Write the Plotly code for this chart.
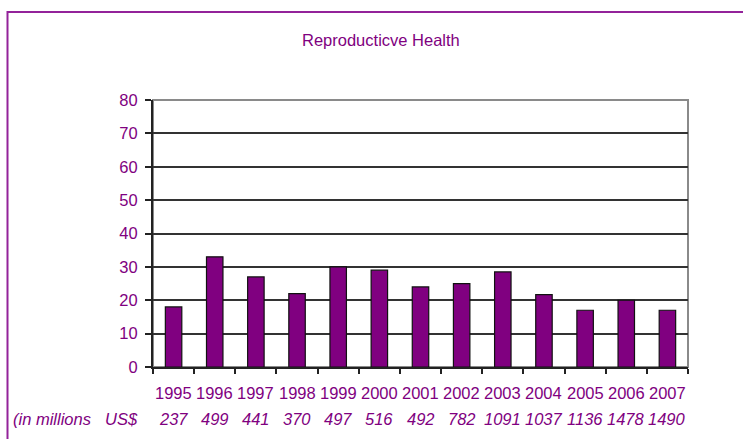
import plotly.graph_objects as go

# Reproductive health spending share by year, with totals in millions US$
years = ["1995", "1996", "1997", "1998", "1999", "2000", "2001",
         "2002", "2003", "2004", "2005", "2006", "2007"]
share = [18, 33, 27, 22, 30, 29, 24, 25, 28.5, 21.7, 17, 20, 17]
totals = ["237", "499", "441", "370", "497", "516", "492",
          "782", "1091", "1037", "1136", "1478", "1490"]
y_ticks = [0, 10, 20, 30, 40, 50, 60, 70, 80]
caption_parts = ["(in millions", "US$"]

PURPLE = "#800080"
FONT = "Liberation Sans, Arial"
FS = 16.5
W, H = 743, 439
L, R, T, B = 153, 55, 100, 72
pw, ph = W - L - R, H - T - B

fig = go.Figure()
fig.add_trace(go.Bar(
    x=years, y=share, width=0.4,
    marker=dict(color=PURPLE, line=dict(color="#111111", width=1.2)),
    showlegend=False, hoverinfo="x+y",
))

annotations = []
for i, (yr, tot) in enumerate(zip(years, totals)):
    annotations.append(dict(x=i, y=-(392.5 - (H - B)) / ph, xref="x", yref="paper",
                            text=yr, showarrow=False, yanchor="middle",
                            font=dict(family=FONT, size=FS, color=PURPLE)))
    annotations.append(dict(x=i, y=-(419 - (H - B)) / ph, xref="x", yref="paper",
                            text=f"<i>{tot}</i>", showarrow=False, yanchor="middle",
                            font=dict(family=FONT, size=FS, color=PURPLE)))
# row caption, laid out as two words with a wide gap
for part, px in zip(caption_parts, [11, 103]):
    annotations.append(dict(x=(px - L) / pw, y=-(419 - (H - B)) / ph, xref="paper", yref="paper",
                            text=f"<i>{part}</i>", showarrow=False,
                            xanchor="left", yanchor="middle",
                            font=dict(family=FONT, size=FS, color=PURPLE)))
annotations.append(dict(x=(381 - L) / pw, y=(H - B - 40) / ph, xref="paper", yref="paper",
                        text="Reproducticve Health", showarrow=False,
                        xanchor="center", yanchor="middle",
                        font=dict(family=FONT, size=FS, color=PURPLE)))

shapes = [
    # outer chart frame, running off the right and bottom edges
    dict(type="rect", xref="paper", yref="paper",
         x0=(7.5 - L) / pw, x1=2, y0=-1, y1=(H - B - 12) / ph,
         line=dict(color="#93239A", width=2), fillcolor="rgba(0,0,0,0)", layer="below"),
    # plot area border (top and right)
    dict(type="rect", xref="paper", yref="paper", x0=0, x1=1, y0=0, y1=1,
         line=dict(color="#8A8A8A", width=2), fillcolor="rgba(0,0,0,0)", layer="below"),
]

fig.update_layout(
    width=W, height=H,
    margin=dict(l=L, r=R, t=T, b=B, pad=0),
    paper_bgcolor="white", plot_bgcolor="white",
    annotations=annotations,
    shapes=shapes,
    xaxis=dict(
        type="category", range=[-0.5, len(years) - 0.5], showticklabels=False,
        ticks="outside", tickson="boundaries", ticklen=5,
        tickcolor="#222222", tickwidth=1.5,
        showline=True, linecolor="#222222", linewidth=2,
        showgrid=False, zeroline=False, fixedrange=True,
    ),
    yaxis=dict(
        range=[0, 80], tickvals=y_ticks, ticks="outside", ticklen=6,
        tickcolor="#222222", tickwidth=1.5, ticklabelstandoff=4,
        tickfont=dict(family=FONT, size=FS, color=PURPLE),
        showline=True, linecolor="#222222", linewidth=2,
        showgrid=True, gridcolor="#333333", gridwidth=1.5,
        zeroline=False, fixedrange=True,
    ),
)

fig.write_html("out.html")
